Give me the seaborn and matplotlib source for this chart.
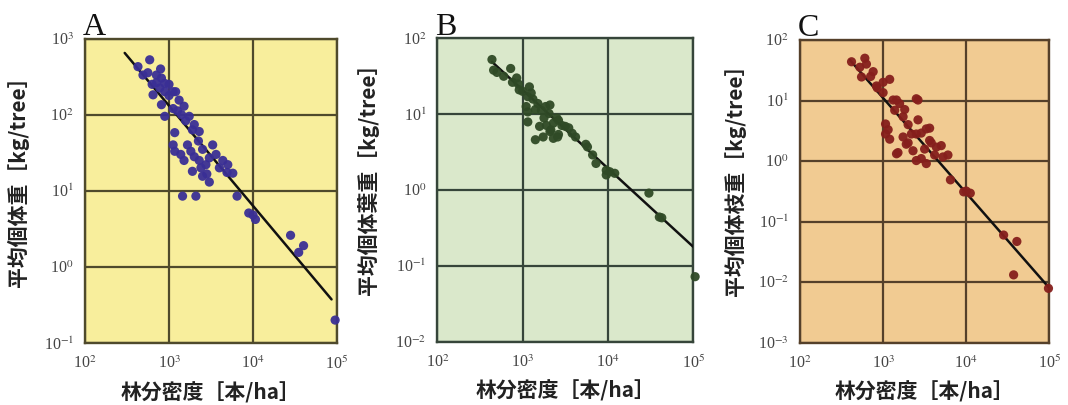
import matplotlib
matplotlib.use("Agg")
import matplotlib.pyplot as plt
import seaborn as sns
import pandas as pd

# ---------------- data ----------------
density_a = [589, 427, 490, 708, 813, 891, 646, 776, 813, 891, 1200, 1320, 1510, 1120, 1740,
             2000, 2290, 1170, 1120, 1170, 1380, 1820, 1900, 2290, 2750, 3020, 3310, 3630, 4370,
             5750, 3020, 2510, 1450, 2090, 6460, 4900, 8900, 10700, 10000, 28000, 40000, 35000,
             95000, 560, 710, 890, 1000, 1260, 1410, 1580, 1900, 2240, 2510, 1660, 2000, 1510,
             2820, 3980, 794, 630, 1000, 1120, 2400, 5010]
weight_a = [525, 427, 331, 331, 302, 257, 182, 224, 135, 95, 200, 155, 129, 120, 95,
            74, 60, 58, 40, 33, 30, 33, 18, 25, 22, 27, 40, 30, 25,
            17, 13, 15.5, 8.5, 8.5, 8.5, 17.4, 5.1, 4.2, 4.8, 2.6, 1.9, 1.55,
            0.2, 355, 263, 200, 178, 112, 100, 83, 63, 45, 35, 40, 28, 25,
            16.6, 20, 398, 250, 250, 200, 20, 22]

density_b = [437, 457, 724, 851, 1200, 912, 1150, 1100, 1410, 1860, 2040, 2630, 3160, 1580,
             2140, 2570, 1410, 3800, 5750, 6610, 7240, 9550, 12000, 9550, 30200, 42700, 105000,
             500, 600, 760, 1000, 1150, 1150, 2090, 2510, 2090, 2630, 3470, 5500, 1320, 1660,
             1780, 2290, 2880, 4170, 1260, 1510, 890, 1900, 10500, 40000, 1740, 2290]
weight_b = [52.5, 38, 40, 30, 22.9, 20.9, 17, 12.6, 11.5, 12.6, 10.2, 8.3, 6.9, 6.9,
            6.2, 5.0, 4.6, 5.6, 3.7, 2.9, 2.24, 1.82, 1.66, 1.58, 0.91, 0.43, 0.072,
            35.5, 31.6, 26.3, 20, 10.7, 7.9, 13.2, 8.9, 5.9, 5.4, 6.6, 4.0, 15.8, 11.2,
            8.9, 7.6, 7.1, 5.0, 19, 13.8, 25, 7.1, 1.74, 0.44, 5.0, 4.8]

density_c = [417, 603, 550, 759, 832, 1200, 1000, 1450, 2510, 1380, 1740, 2510, 3310, 1070,
             1070, 1450, 1900, 2290, 2510, 3310, 3630, 4370, 5250, 6030, 6460, 9330, 11200,
             28200, 40700, 37200, 97700, 525, 708, 851, 1320, 1820, 2630, 1150, 1200, 1510,
             2000, 2630, 2880, 3630, 3800, 5010, 2880, 1000, 1580, 2000, 2190, 3160, 1740,
             4170, 630, 10000]
weight_c = [43.7, 50, 24.5, 30, 17.4, 22.4, 13.5, 10.2, 10.7, 6.9, 5.4, 2.8, 3.4, 4.1,
            2.8, 1.32, 1.9, 1.48, 1.02, 0.91, 2.19, 1.7, 1.17, 1.26, 0.49, 0.31, 0.295,
            0.060, 0.047, 0.0132, 0.0079, 35.5, 25, 16.2, 10.2, 7.1, 10.2, 3.3, 2.3, 1.38,
            2.0, 4.8, 2.9, 3.5, 2.0, 1.8, 1.1, 20, 8.9, 4.0, 2.8, 1.58, 2.5,
            1.26, 40, 0.32]

# fitted lines (endpoints)
line_a_x = [297, 86100]
line_a_y = [646, 0.374]
line_b_x = [437, 100000]
line_b_y = [49, 0.178]
line_c_x = [398, 97700]
line_c_y = [46.8, 0.0083]

panel_letters = ["A", "B", "C"]
ylabels = ["平均個体重［kg/tree］", "平均個体葉重［kg/tree］", "平均個体枝重［kg/tree］"]
xlabel = "林分密度［本/ha］"
x_ticks = [1e2, 1e3, 1e4, 1e5]
x_ticklabels = ["10$^{2}$", "10$^{3}$", "10$^{4}$", "10$^{5}$"]
y_exps = [[3, 2, 1, 0, -1], [2, 1, 0, -1, -2], [2, 1, 0, -1, -2, -3]]

# ---------------- style ----------------
sns.set_theme(style="ticks")
plt.rcParams["font.family"] = ["Liberation Serif", "DejaVu Serif"]
plt.rcParams["mathtext.fontset"] = "stix"

fig = plt.figure(figsize=(10.68, 4.05), dpi=100)
positions = [
    [85 / 1068, 1 - 343 / 405, 252 / 1068, 304.5 / 405],
    [437.3 / 1068, 1 - 341.7 / 405, 256 / 1068, 303.4 / 405],
    [800 / 1068, 1 - 342.7 / 405, 249.3 / 1068, 302.7 / 405],
]
bg_colors = ["#F8EE9C", "#DAE8CB", "#F1CB92"]
grid_colors = ["#4F4A2C", "#36453A", "#55402A"]
pt_colors = ["#3A2F95", "#2F4A26", "#861F1C"]
ylabel_y = [0.548, 0.553, 0.554]
ylabel_x = [-0.222, -0.226, -0.215]

datasets = [
    (density_a, weight_a, line_a_x, line_a_y),
    (density_b, weight_b, line_b_x, line_b_y),
    (density_c, weight_c, line_c_x, line_c_y),
]

cjk = ["Noto Sans CJK JP", "DejaVu Sans"]

for i, (dx, wy, lx, ly) in enumerate(datasets):
    ax = fig.add_axes(positions[i])
    ax.set_facecolor(bg_colors[i])
    ax.set_xscale("log")
    ax.set_yscale("log")
    exps = y_exps[i]
    ax.set_xlim(1e2, 1e5)
    ax.set_ylim(10.0 ** exps[-1], 10.0 ** exps[0])

    df = pd.DataFrame({"density": dx, "weight": wy})
    sns.lineplot(data=pd.DataFrame({"x": lx, "y": ly}), x="x", y="y", ax=ax,
                 color="#111111", lw=1.8, zorder=3)
    sns.scatterplot(data=df, x="density", y="weight", ax=ax, color=pt_colors[i],
                    s=44, edgecolor="none", alpha=0.95, zorder=4, clip_on=False)

    ax.set_xticks(x_ticks)
    ax.set_xticklabels(x_ticklabels)
    yt = [10.0 ** e for e in exps]
    ax.set_yticks(yt)
    ax.set_yticklabels([f"10$^{{{e}}}$" for e in exps])
    ax.minorticks_off()
    ax.tick_params(axis="both", which="both", length=0, labelsize=11.5, colors="#444444")
    ax.tick_params(axis="x", pad=9)
    ax.tick_params(axis="y", pad=8)
    ax.grid(True, which="major", color=grid_colors[i], lw=1.6)
    ax.set_axisbelow(True)
    for sp in ax.spines.values():
        sp.set_color(grid_colors[i])
        sp.set_linewidth(1.7)
        sp.set_visible(True)

    ax.set_xlabel(xlabel, family=cjk, fontsize=15, fontweight="bold", color="#222222")
    ax.xaxis.set_label_coords(0.5, -0.128)
    ax.set_ylabel(ylabels[i], family=cjk, fontsize=15, fontweight="bold", color="#222222")
    ax.yaxis.set_label_coords(ylabel_x[i], ylabel_y[i])

    ax.text(-0.01, 1.012, panel_letters[i], transform=ax.transAxes, fontsize=23,
            family=["Liberation Serif"], va="baseline", ha="left", color="#111111")

fig.savefig("out.png", dpi=100)
